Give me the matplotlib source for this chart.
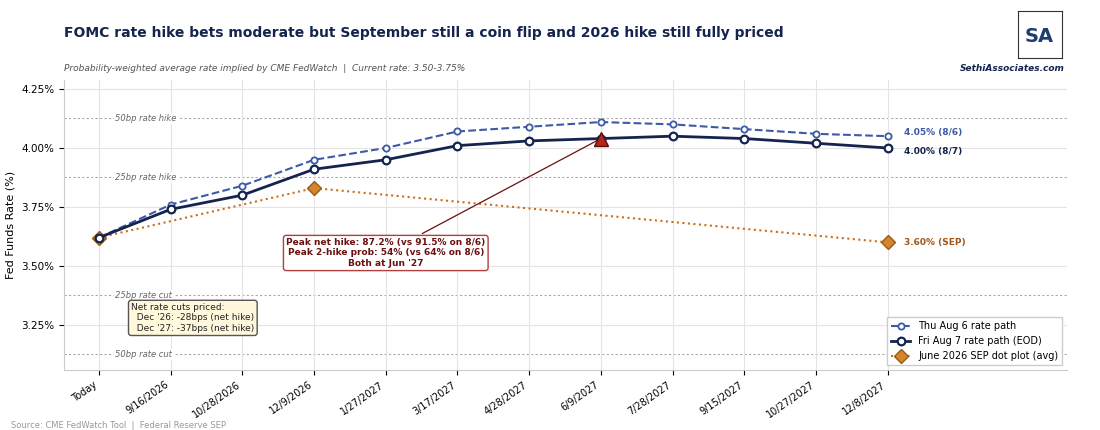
import matplotlib
matplotlib.use("Agg")
import matplotlib.pyplot as plt
import numpy as np

labels = ["Today", "9/16/2026", "10/28/2026", "12/9/2026", "1/27/2027", "3/17/2027",
          "4/28/2027", "6/9/2027", "7/28/2027", "9/15/2027", "10/27/2027", "12/8/2027"]
thu = [3.62, 3.76, 3.84, 3.95, 4.00, 4.07, 4.09, 4.11, 4.10, 4.08, 4.06, 4.05]
fri = [3.62, 3.74, 3.80, 3.91, 3.95, 4.01, 4.03, 4.04, 4.05, 4.04, 4.02, 4.00]
sep_idx = [0, 3, 11]
sep_val = [3.62, 3.83, 3.60]
ref_levels = [4.125, 3.875, 3.375, 3.125]
ref_labels = ["50bp rate hike", "25bp rate hike", "25bp rate cut", "50bp rate cut"]

x = np.arange(len(labels))
fig = plt.figure(figsize=(11, 4.3), dpi=100)
ax = fig.add_axes([0.058, 0.14, 0.912, 0.675])

for lv, lb in zip(ref_levels, ref_labels):
    ax.axhline(lv, color="#aaaaaa", ls=(0, (2, 2)), lw=0.8, zorder=1)
    ax.text(0.23, lv, lb, fontsize=6, style="italic", color="#666666", va="center",
            bbox=dict(fc="white", ec="none", pad=1), zorder=2)

ax.plot(x, thu, color="#3c5aa6", ls="--", lw=1.5, marker="o", ms=4.5, mfc="white",
        mec="#3c5aa6", mew=1.3, label="Thu Aug 6 rate path", zorder=4)
ax.plot(x, fri, color="#14244f", lw=2, marker="o", ms=5.5, mfc="white",
        mec="#14244f", mew=1.6, label="Fri Aug 7 rate path (EOD)", zorder=5)
ax.plot(sep_idx, sep_val, color="#c9701a", ls=":", lw=1.5, marker="D", ms=7,
        mfc="#d4862e", mec="#9a5a12", label="June 2026 SEP dot plot (avg)", zorder=3)
ax.plot(7, fri[7], marker="^", ms=10, color="#b3261e", mec="#5a0f0a", zorder=6)

ax.annotate("Peak net hike: 87.2% (vs 91.5% on 8/6)\nPeak 2-hike prob: 54% (vs 64% on 8/6)\nBoth at Jun '27",
            xy=(7, fri[7]), xytext=(4.0, 3.555), ha="center", va="center", fontsize=6.5,
            fontweight="bold", color="#6b0f0f",
            bbox=dict(boxstyle="round,pad=0.3", fc="white", ec="#b04040", lw=1),
            arrowprops=dict(arrowstyle="-", color="#6b0f0f", lw=0.9))
ax.text(0.45, 3.28, "Net rate cuts priced:\n  Dec '26: -28bps (net hike)\n  Dec '27: -37bps (net hike)",
        fontsize=6.5, color="#222222", va="center",
        bbox=dict(boxstyle="round,pad=0.3", fc="#fff8dc", ec="#555555", lw=1))

ax.text(11.22, thu[-1] + 0.015, "4.05% (8/6)", fontsize=6.5, fontweight="bold", color="#3c5aa6", va="center")
ax.text(11.22, fri[-1] - 0.015, "4.00% (8/7)", fontsize=6.5, fontweight="bold", color="#14244f", va="center")
ax.text(11.22, sep_val[-1], "3.60% (SEP)", fontsize=6.5, fontweight="bold", color="#a0561a", va="center")

ax.set_xlim(-0.49, 13.5)
ax.set_ylim(3.06, 4.29)
ax.set_xticks(x)
ax.set_xticklabels(labels, rotation=35, ha="right", fontsize=7)
ax.set_yticks([3.25, 3.5, 3.75, 4.0, 4.25])
ax.set_yticklabels(["3.25%", "3.50%", "3.75%", "4.00%", "4.25%"], fontsize=7.5)
ax.set_ylabel("Fed Funds Rate (%)", fontsize=8)
ax.grid(True, color="#e4e4e4", lw=0.8, zorder=0)
for s in ["top", "right"]:
    ax.spines[s].set_visible(False)
for s in ["left", "bottom"]:
    ax.spines[s].set_color("#cccccc")
ax.legend(loc="lower right", fontsize=7, framealpha=1, edgecolor="#cccccc", fancybox=False)

fig.text(0.058, 0.915, "FOMC rate hike bets moderate but September still a coin flip and 2026 hike still fully priced",
         fontsize=10, fontweight="bold", color="#14244f")
fig.text(0.058, 0.835, "Probability-weighted average rate implied by CME FedWatch  |  Current rate: 3.50-3.75%",
         fontsize=6.5, style="italic", color="#555555")
fig.text(0.01, 0.005, "Source: CME FedWatch Tool  |  Federal Reserve SEP", fontsize=6, color="#999999")
fig.text(0.968, 0.835, "SethiAssociates.com", fontsize=6.5, fontweight="bold", style="italic",
         color="#14244f", ha="right")
lax = fig.add_axes([0.925, 0.865, 0.04, 0.11])
lax.set_xticks([]); lax.set_yticks([])
for s in lax.spines.values():
    s.set_color("#333333")
lax.text(0.5, 0.45, "SA", fontsize=14, fontweight="bold", color="#1f3d6e", ha="center", va="center")

fig.savefig("out.png", dpi=100)
